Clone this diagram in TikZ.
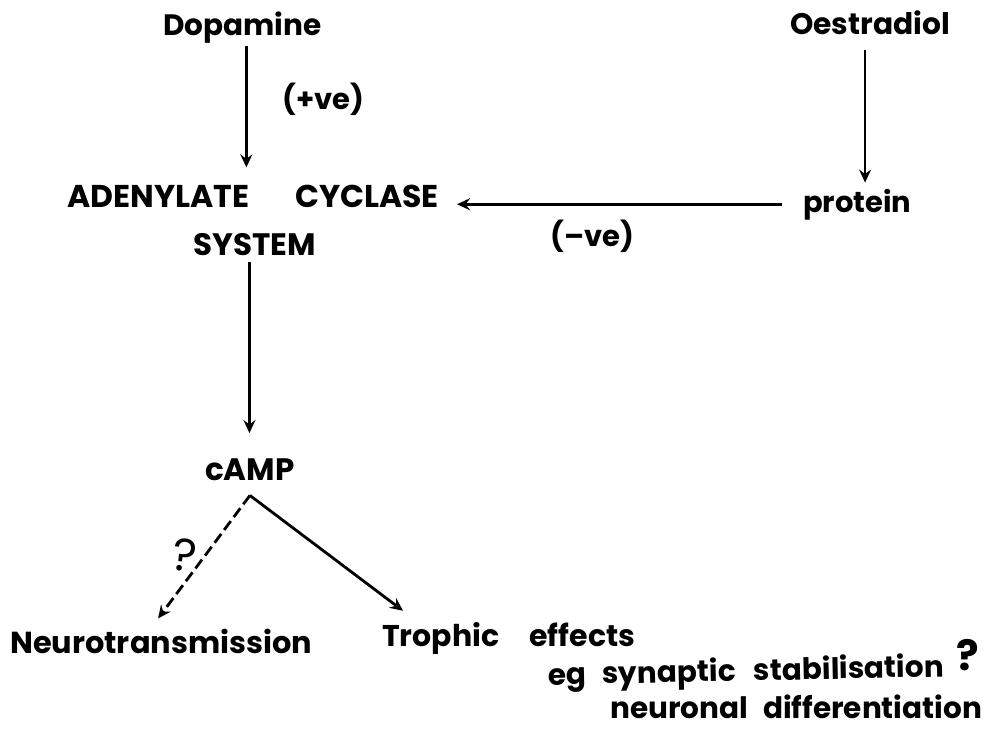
\documentclass[tikz,border=0pt]{standalone}
\usepackage{fontspec}
\setmainfont{Poppins}
\usetikzlibrary{arrows.meta}
\begin{document}
\begin{tikzpicture}[x=1pt,y=-1pt,
  lbl/.style={font=\fontsize{#1}{#1}\selectfont\bfseries, inner sep=0pt, anchor=base west},
  lbl/.default=30,
  arr/.style={line width=2.8pt, -{Stealth[length=13pt,width=12pt,inset=4.5pt]}},
  dsh/.style={dash pattern=on 11pt off 5pt}
]
\useasboundingbox[fill=white] (0,0) rectangle (990,733);
\node[lbl=29.5] (dop) at (163,36) {Dopamine};
\node[lbl=29.7] (oes) at (790,35) {Oestradiol};
\node[lbl=29] (pve) at (282,110) {(+ve)};
\node[lbl=31.5] (adcy) at (67,207) {ADENYLATE\hspace{46pt}CYCLASE};
\node[lbl=31] (sys) at (193,255) {SYSTEM};
\node[lbl=29] (prot) at (803,212) {protein};
\node[lbl=29] (nve) at (550,246) {(--ve)};
\node[lbl=31] (camp) at (205,480) {cAMP};
\node[lbl=30.4] (neuro) at (10,653) {Neurotransmission};
\node[lbl=30] (troph) at (382,646) {Trophic\hspace{30pt}effects};
\node[lbl=29.5, rotate=1.2] (syn) at (548,685) {eg\hspace{16pt}synaptic\hspace{18pt}stabilisation};
\node[lbl=29.5] (diff) at (610,718) {neuronal\hspace{15pt}differentiation};
\node[font=\fontsize{46}{46}\selectfont, inner sep=0pt, rotate=-8] (q1) at (185,555) {?};
\node[font=\fontsize{42}{42}\selectfont\bfseries, inner sep=0pt] (q2) at (968,655) {?};
\coordinate (apex) at ([yshift=-15pt]camp.south);
\draw[arr, shorten <=2pt, shorten >=17pt] ([xshift=4pt]dop.south) -- ([xshift=4pt]dop.south |- adcy.north);
\draw[arr, shorten <=15pt, shorten >=6pt] ([xshift=-5pt]oes.south) -- ([xshift=-5pt]oes.south |- prot.north);
\draw[arr, shorten <=21pt, shorten >=18pt] (prot.west) -- (adcy.east |- prot.west);
\draw[arr, shorten <=7pt, shorten >=25pt] ([xshift=-5pt]sys.south) -- ([xshift=-5pt]sys.south |- camp.north);
\draw[arr, dsh] (apex) -- ([xshift=-3pt,yshift=10pt]neuro.north);
\draw[arr] (apex) -- ([xshift=21pt,yshift=11pt]troph.north west);
\end{tikzpicture}
\end{document}
